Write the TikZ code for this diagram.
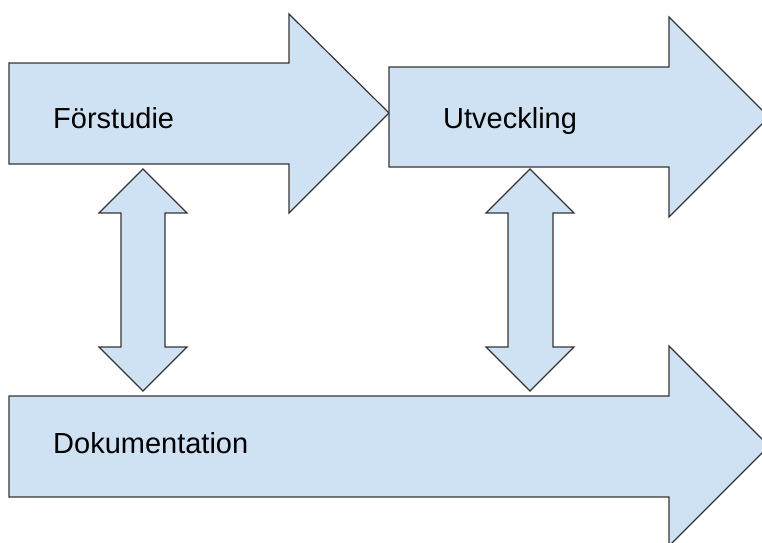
\documentclass[tikz,border=0pt]{standalone}
\usepackage{fontspec}
\setmainfont{Liberation Sans}
\definecolor{fillblue}{HTML}{CFE2F3}
\definecolor{edge}{HTML}{353535}
\begin{document}
\begin{tikzpicture}[x=1pt,y=-1pt,
  shapestyle/.style={fill=fillblue,draw=edge,line width=1.2pt,line join=miter},
  lbl/.style={anchor=base west,inner sep=0pt,font=\fontsize{29}{33}\selectfont}]
\useasboundingbox (0,0) rectangle (762,542);
\clip (0,0) rectangle (762,542);
% Förstudie arrow
\draw[shapestyle] (9,63) -- (289,63) -- (289,14) -- (389,113) -- (289,213) -- (289,164) -- (9,164) -- cycle;
% Utveckling arrow
\draw[shapestyle] (389,67) -- (669,67) -- (669,17) -- (769,117) -- (669,217) -- (669,167) -- (389,167) -- cycle;
% Dokumentation arrow
\draw[shapestyle] (9,396) -- (669,396) -- (669,346) -- (769,446) -- (669,546) -- (669,497) -- (9,497) -- cycle;
% left double arrow
\draw[shapestyle] (143,169) -- (187,213) -- (165,213) -- (165,347) -- (187,347) -- (143,391) -- (99,347) -- (121,347) -- (121,213) -- (99,213) -- cycle;
% right double arrow
\draw[shapestyle] (530,169) -- (574,213) -- (553,213) -- (553,347) -- (574,347) -- (530,391) -- (486,347) -- (508,347) -- (508,213) -- (486,213) -- cycle;
% labels
\node[lbl] (forstudie) at (53,128) {Förstudie};
\node[lbl] (utveckling) at (443,128) {Utveckling};
\node[lbl] (dokumentation) at (53,453) {Dokumentation};
\end{tikzpicture}
\end{document}
